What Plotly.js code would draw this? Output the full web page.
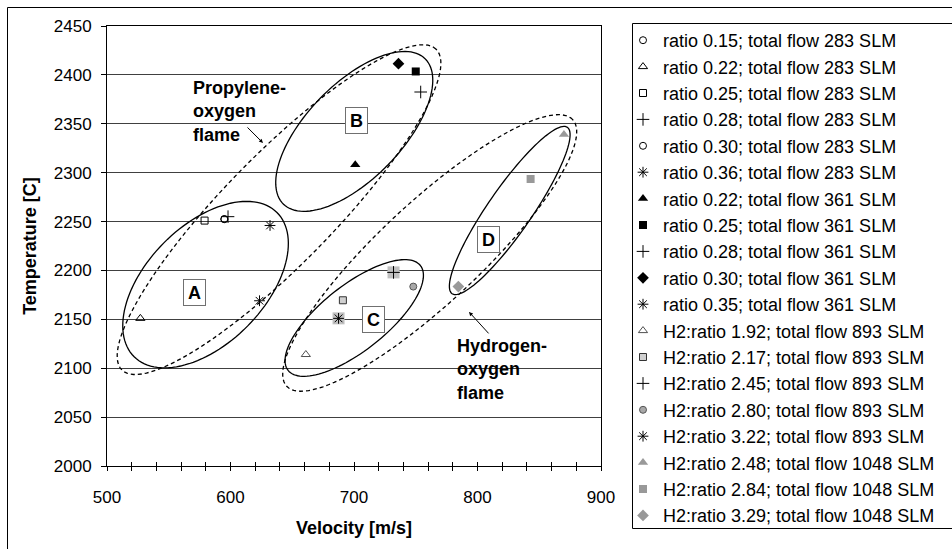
<!DOCTYPE html>
<html>
<head>
<meta charset="utf-8">
<script src="https://cdn.plot.ly/plotly-3.0.1.min.js"></script>
<style>html,body{margin:0;padding:0;background:#fff;}#chart{width:952px;height:549px;}</style>
</head>
<body>
<div id="chart"></div>
<script>
// ---- data ----
const seriesNames = [
  'ratio 0.15; total flow 283 SLM',
  'ratio 0.22; total flow 283 SLM',
  'ratio 0.25; total flow 283 SLM',
  'ratio 0.28; total flow 283 SLM',
  'ratio 0.30; total flow 283 SLM',
  'ratio 0.36; total flow 283 SLM',
  'ratio 0.22; total flow 361 SLM',
  'ratio 0.25; total flow 361 SLM',
  'ratio 0.28; total flow 361 SLM',
  'ratio 0.30; total flow 361 SLM',
  'ratio 0.35; total flow 361 SLM',
  'H2:ratio 1.92; total flow 893 SLM',
  'H2:ratio 2.17; total flow 893 SLM',
  'H2:ratio 2.45; total flow 893 SLM',
  'H2:ratio 2.80; total flow 893 SLM',
  'H2:ratio 3.22; total flow 893 SLM',
  'H2:ratio 2.48; total flow 1048 SLM',
  'H2:ratio 2.84; total flow 1048 SLM',
  'H2:ratio 3.29; total flow 1048 SLM'
];
const velocity = [595, 527, 579, 598, 595, 632, 701, 750, 754, 736, 623.5, 661, 691, 732, 748, 687.5, 870, 843, 784.5];
const temperature = [2252.5, 2151, 2251, 2255, 2252.5, 2246, 2308, 2403.5, 2382.5, 2411.5, 2169, 2114, 2169.5, 2198, 2183.5, 2151, 2339, 2293.5, 2183.5];
// gray square backdrop behind some H2 markers
const hasBackdrop = [false,false,false,false,false,false,false,false,false,false,false,false,false,true,false,true,false,false,false];

// ellipses: centre in data units, semi-axes in pixels, tilt in degrees
const ellipseCx = [579.8, 700.2, 639.3, 700.2, 826.1, 761.3];
const ellipseCy = [2185.5, 2342.2, 2262.2, 2151.4, 2261.3, 2217.9];
const ellipseA = [101.5, 101.5, 224.5, 84.4, 101.2, 195.5];
const ellipseB = [59, 47.5, 54.7, 32.7, 21.9, 50.2];
const ellipseTilt = [45.3, 45.8, 45.6, 38.4, 55.3, 43];
const ellipseDashed = [false, false, true, false, false, true];

const groupLabels = ['A', 'B', 'C', 'D'];
const groupLabelX = [571, 702, 715.6, 809.3];
const groupLabelY = [2177.3, 2353.7, 2150.2, 2231.5];

const xRange = [500, 900];
const yRange = [2000, 2450];
const xTickVals = [500, 600, 700, 800, 900];
const yTickVals = [2000, 2050, 2100, 2150, 2200, 2250, 2300, 2350, 2400, 2450];

// ---- styles ----
const FONT = 'Liberation Sans, Arial, Helvetica, sans-serif';
const W = 952, H = 549;
const M = {l: 107, r: 351, t: 26, b: 83};
const plotW = W - M.l - M.r, plotH = H - M.t - M.b;

const styles = [
  {symbol: 'circle-open', size: 7, color: '#000', lw: 1},
  {symbol: 'triangle-up-open', size: 8, color: '#000', lw: 1},
  {symbol: 'square-open', size: 7, color: '#000', lw: 1},
  {symbol: 'cross-thin-open', size: 9, color: '#000', lw: 1},
  {symbol: 'circle-open', size: 7, color: '#000', lw: 1},
  {symbol: 'asterisk-open', size: 9, color: '#000', lw: 1},
  {symbol: 'triangle-up', size: 9, color: '#000', lw: 0},
  {symbol: 'square', size: 8, color: '#000', lw: 0},
  {symbol: 'cross-thin-open', size: 9, color: '#000', lw: 1},
  {symbol: 'diamond', size: 9, color: '#000', lw: 0},
  {symbol: 'asterisk-open', size: 9, color: '#000', lw: 1},
  {symbol: 'triangle-up-open', size: 8, color: '#505050', lw: 1},
  {symbol: 'square', size: 7, color: '#d0d0d0', lw: 1, line: '#333'},
  {symbol: 'cross-thin-open', size: 9, color: '#000', lw: 1},
  {symbol: 'circle', size: 7, color: '#a8a8a8', lw: 1, line: '#555'},
  {symbol: 'asterisk-open', size: 9, color: '#000', lw: 1},
  {symbol: 'triangle-up', size: 9, color: '#999', lw: 0},
  {symbol: 'square', size: 8, color: '#999', lw: 0},
  {symbol: 'diamond', size: 9, color: '#999', lw: 0}
];

const traces = [];
seriesNames.forEach((name, i) => {
  if (hasBackdrop[i]) {
    traces.push({
      x: [velocity[i]], y: [temperature[i]], type: 'scatter', mode: 'markers',
      showlegend: false, hoverinfo: 'skip',
      marker: {symbol: 'square', size: 12, color: '#c0c0c0', line: {width: 0}}
    });
  }
  const s = styles[i];
  traces.push({
    x: [velocity[i]], y: [temperature[i]], type: 'scatter', mode: 'markers', name: name,
    marker: {symbol: s.symbol, size: s.size, color: s.color,
             line: {width: s.lw, color: s.line || s.color}}
  });
});
traces.push({x: [], y: [], xaxis: 'x2', yaxis: 'y', showlegend: false, type: 'scatter'});

function ellipsePath(cx, cy, a, b, tilt) {
  const th = tilt * Math.PI / 180;
  const sx = plotW / (xRange[1] - xRange[0]);
  const sy = plotH / (yRange[1] - yRange[0]);
  const pts = [];
  for (let k = 0; k <= 120; k++) {
    const t = 2 * Math.PI * k / 120;
    const dx = a * Math.cos(th) * Math.cos(t) - b * Math.sin(th) * Math.sin(t);
    const dy = a * Math.sin(th) * Math.cos(t) + b * Math.cos(th) * Math.sin(t);
    pts.push((cx + dx / sx).toFixed(3) + ',' + (cy + dy / sy).toFixed(3));
  }
  return 'M' + pts.join('L') + 'Z';
}

const px2paperX = p => (p - M.l) / plotW;
const px2paperY = p => 1 - (p - M.t) / plotH;

const shapes = [];
// outer chart frame
shapes.push({type: 'rect', xref: 'paper', yref: 'paper',
  x0: px2paperX(7.5), x1: px2paperX(1100), y0: px2paperY(800), y1: px2paperY(7.5),
  line: {color: '#000', width: 1}, fillcolor: 'rgba(0,0,0,0)'});
// legend box
shapes.push({type: 'rect', xref: 'paper', yref: 'paper',
  x0: px2paperX(632.5), x1: px2paperX(1000), y0: px2paperY(528.5), y1: px2paperY(23.5),
  line: {color: '#000', width: 1}, fillcolor: 'rgba(0,0,0,0)'});
ellipseCx.forEach((cx, i) => {
  shapes.push({type: 'path', xref: 'x', yref: 'y', layer: 'above',
    path: ellipsePath(cx, ellipseCy[i], ellipseA[i], ellipseB[i], ellipseTilt[i]),
    line: {color: '#000', width: 1.3, dash: ellipseDashed[i] ? '4px,3px' : 'solid'}});
});

const annotations = [];
groupLabels.forEach((lab, i) => {
  annotations.push({x: groupLabelX[i], y: groupLabelY[i], xref: 'x', yref: 'y',
    text: '<b>' + lab + '</b>', showarrow: false, font: {family: FONT, size: 18, color: '#000'},
    bordercolor: '#707070', borderwidth: 1, borderpad: 2, bgcolor: '#fff',
    width: 17, height: 21, xanchor: 'center', yanchor: 'middle'});
});
annotations.push({x: 568, y: 2362.7, xref: 'x', yref: 'y', xanchor: 'left', yanchor: 'middle', align: 'left',
  text: '<b>Propylene-</b><br><b>oxygen</b><br><b>flame</b>', showarrow: false,
  font: {family: FONT, size: 18, color: '#000'}});
annotations.push({x: 781.5, y: 2098.6, xref: 'x', yref: 'y', xanchor: 'left', yanchor: 'middle', align: 'left',
  text: '<b>Hydrogen-</b><br><b>oxygen</b><br><b>flame</b>', showarrow: false,
  font: {family: FONT, size: 18, color: '#000'}});
annotations.push({x: 626.3, y: 2330.4, xref: 'x', yref: 'y', text: '', showarrow: true,
  ax: -17, ay: -17, arrowhead: 2, arrowsize: 0.8, arrowwidth: 1, arrowcolor: '#000'});
annotations.push({x: 793.1, y: 2157.6, xref: 'x', yref: 'y', text: '', showarrow: true,
  ax: 21, ay: 23, arrowhead: 2, arrowsize: 0.8, arrowwidth: 1, arrowcolor: '#000'});

const layout = {
  width: W, height: H,
  margin: M,
  paper_bgcolor: '#fff', plot_bgcolor: '#fff',
  font: {family: FONT, size: 17, color: '#000'},
  showlegend: true,
  legend: {x: px2paperX(623), y: px2paperY(22), xanchor: 'left', yanchor: 'top',
    bgcolor: 'rgba(0,0,0,0)', borderwidth: 0, font: {family: FONT, size: 18, color: '#000'},
    itemwidth: 30, tracegroupgap: 0, maxheight: 540},
  xaxis: {range: xRange, tickvals: xTickVals, showgrid: false, zeroline: false,
    showline: true, linecolor: '#000', linewidth: 1, mirror: true,
    ticks: 'outside', ticklen: 4, tickcolor: '#000',
    minor: {dtick: 20, tick0: 500, ticks: 'outside', ticklen: 4, tickcolor: '#000', showgrid: false},
    ticklabelstandoff: 12,
    tickfont: {family: FONT, size: 17, color: '#000'},
    title: {text: '<b>Velocity [m/s]</b>', font: {family: FONT, size: 18, color: '#000'}, standoff: 14}},
  xaxis2: {range: xRange, overlaying: 'x', anchor: 'y', side: 'bottom', tickvals: xTickVals,
    showgrid: false, zeroline: false, showticklabels: false, showline: false,
    ticks: 'inside', ticklen: 4, tickcolor: '#000',
    minor: {dtick: 20, tick0: 500, ticks: 'inside', ticklen: 4, tickcolor: '#000', showgrid: false}},
  yaxis: {range: yRange, tickvals: yTickVals, showgrid: true, gridcolor: '#404040', gridwidth: 1,
    zeroline: false, showline: true, linecolor: '#000', linewidth: 1, mirror: true,
    ticks: 'outside', ticklen: 5, tickcolor: '#000', ticklabelstandoff: 6,
    tickfont: {family: FONT, size: 17, color: '#000'},
    title: {text: '<b>Temperature [C]</b>', font: {family: FONT, size: 18, color: '#000'}, standoff: 12}},
  shapes: shapes,
  annotations: annotations
};

Plotly.newPlot('chart', traces, layout, {displayModeBar: false, staticPlot: true});
</script>
</body>
</html>
